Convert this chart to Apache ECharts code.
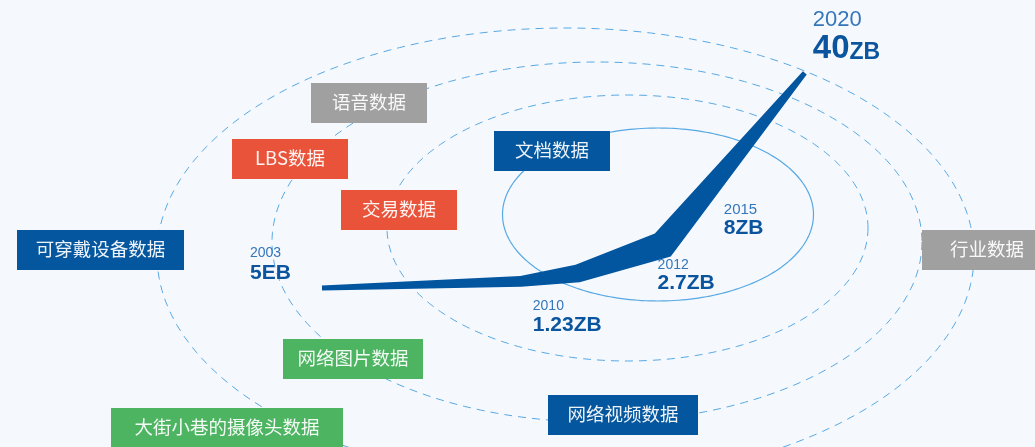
<!DOCTYPE html>
<html>
<head>
<meta charset="utf-8">
<script src="https://cdn.jsdelivr.net/npm/echarts@6/dist/echarts.min.js"></script>
<style>
html,body{margin:0;padding:0;background:#f5f9fe;}
#main{width:1035px;height:447px;}
</style>
</head>
<body>
<div id="main"></div>
<script>
// ---------------- data ----------------
const years = [2003, 2010, 2012, 2015, 2020];
const volumesZB = [0.005, 1.23, 2.7, 8, 40];          // 5EB = 0.005ZB
const volumeNumbers = ['5', '1.23', '2.7', '8', '40'];
const volumeUnits = ['EB', 'ZB', 'ZB', 'ZB', 'ZB'];
const dataTypes = ['语音数据', 'LBS数据', '交易数据', '可穿戴设备数据', '文档数据',
                   '网络图片数据', '大街小巷的摄像头数据', '网络视频数据', '行业数据'];
const dataTypeGroups = ['gray', 'red', 'red', 'blue', 'blue', 'green', 'green', 'blue', 'gray'];

// ---------------- styles / layout ----------------
const bgColor = '#f5f9fe';
const wedgeColor = '#02559f';
const ringColor = '#58a8e3';
const yearColor = '#3576bb';
const valueColor = '#0b559f';
const groupColors = { gray: '#a0a0a0', red: '#e8533a', blue: '#04569e', green: '#4db462' };
const boxLayout = [[311, 83, 116], [232, 139, 116], [341, 190, 116], [17, 230, 167], [494, 131, 116],
                   [283, 339, 140], [111, 408, 232], [548, 395, 150], [922, 230, 130]];
const boxHeight = 40;
const ringLayout = [
  { cx: 658, cy: 214.5, rx: 155.5, ry: 86.5, dashed: false },
  { cx: 627.5, cy: 228, rx: 240.5, ry: 133, dashed: true },
  { cx: 597, cy: 242, rx: 325, ry: 180, dashed: true },
  { cx: 565.5, cy: 255, rx: 408.5, ry: 227, dashed: true }
];
const wedgeHalfWidth = [2.5, 5.5, 9, 13.5, 2.5];
// [dx of label, dy of year text middle, dy of value text middle] relative to the data point
const labelOffset = [[-72, -34.5, -14.5], [12, 24.6, 44.1], [80, -8, 10], [61, -35.5, -17], [8, -53.3, -23.8]];
const yearFontSize = [14, 14, 14, 15, 22];
const valueFontSize = [21, 21, 21, 21, 33];
const unitFontSize = [21, 21, 21, 21, 23];
const numFont = '"Liberation Sans", Arial, Helvetica, sans-serif';
const cjkFont = '"Noto Sans CJK SC", "Liberation Sans", sans-serif';

// ---------------- helpers ----------------
const measureCtx = document.createElement('canvas').getContext('2d');
function textWidth(text, font) { measureCtx.font = font; return measureCtx.measureText(text).width; }

function ellipsePoints(r) {
  const pts = [];
  const n = 240;
  for (let k = 0; k < n; k++) {
    const t = (k / n) * Math.PI * 2;
    pts.push([r.cx + r.rx * Math.cos(t), r.cy + r.ry * Math.sin(t)]);
  }
  return pts;
}

function unitNormal(a, b) {
  const dx = b[0] - a[0], dy = b[1] - a[1];
  const L = Math.hypot(dx, dy);
  return [-dy / L, dx / L];
}

function renderItem(params, api) {
  const i = params.dataIndex;
  const children = [];
  if (i === 0) {
    const pts = years.map((y, k) => api.coord([y, volumesZB[k]]));
    const top = [], bottom = [];
    for (let k = 0; k < pts.length; k++) {
      let n;
      if (k === 0) n = unitNormal(pts[0], pts[1]);
      else if (k === pts.length - 1) n = unitNormal(pts[k - 1], pts[k]);
      else {
        const n1 = unitNormal(pts[k - 1], pts[k]);
        const n2 = unitNormal(pts[k], pts[k + 1]);
        let m = [n1[0] + n2[0], n1[1] + n2[1]];
        const L = Math.hypot(m[0], m[1]);
        m = [m[0] / L, m[1] / L];
        const c = m[0] * n1[0] + m[1] * n1[1];
        n = [m[0] / c, m[1] / c];
      }
      const w = wedgeHalfWidth[k];
      bottom.push([pts[k][0] + n[0] * w, pts[k][1] + n[1] * w]);
      top.push([pts[k][0] - n[0] * w, pts[k][1] - n[1] * w]);
    }
    children.push({
      type: 'polygon',
      shape: { points: top.concat(bottom.reverse()) },
      style: { fill: wedgeColor }
    });
  }
  const p = api.coord([api.value(0), api.value(1)]);
  const off = labelOffset[i];
  const x0 = p[0] + off[0];
  const yFont = yearFontSize[i] + 'px ' + numFont;
  const vFont = 'bold ' + valueFontSize[i] + 'px ' + numFont;
  const uFont = 'bold ' + unitFontSize[i] + 'px ' + numFont;
  children.push({
    type: 'text',
    style: { text: String(years[i]), x: x0, y: p[1] + off[1], font: yFont, fill: yearColor, align: 'left', verticalAlign: 'middle' }
  });
  children.push({
    type: 'text',
    style: { text: volumeNumbers[i], x: x0, y: p[1] + off[2], font: vFont, fill: valueColor, align: 'left', verticalAlign: 'middle' }
  });
  const wNum = textWidth(volumeNumbers[i], vFont);
  children.push({
    type: 'text',
    style: {
      text: volumeUnits[i], x: x0 + wNum, y: p[1] + off[2] + 0.358 * (valueFontSize[i] - unitFontSize[i]),
      font: uFont, fill: valueColor, align: 'left', verticalAlign: 'middle'
    }
  });
  return { type: 'group', children: children };
}

// ---------------- graphic decorations ----------------
const graphics = [];
ringLayout.forEach(r => {
  graphics.push({
    type: 'polygon',
    silent: true,
    z: 0,
    shape: { points: ellipsePoints(r) },
    style: { fill: null, stroke: ringColor, lineWidth: r.dashed ? 1 : 1.2, lineDash: r.dashed ? [8, 6] : null }
  });
});
dataTypes.forEach((name, i) => {
  const b = boxLayout[i];
  graphics.push({
    type: 'rect',
    silent: true,
    z: 1,
    shape: { x: b[0], y: b[1], width: b[2], height: boxHeight },
    style: { fill: groupColors[dataTypeGroups[i]] }
  });
  graphics.push({
    type: 'text',
    silent: true,
    z: 2,
    style: {
      text: name, x: b[0] + b[2] / 2, y: b[1] + boxHeight / 2 - 1,
      font: '18.5px ' + cjkFont, fill: 'rgba(255,255,255,0.93)', align: 'center', verticalAlign: 'middle'
    }
  });
});

const chart = echarts.init(document.getElementById('main'), null, { renderer: 'canvas' });
chart.setOption({
  backgroundColor: bgColor,
  animation: false,
  grid: { left: 236.8, top: 19, width: 710, height: 269 },
  xAxis: { type: 'value', min: 2000, max: 2025, show: false },
  yAxis: { type: 'value', min: 0, max: 50, show: false },
  graphic: graphics,
  series: [{
    type: 'custom',
    coordinateSystem: 'cartesian2d',
    silent: true,
    z: 5,
    data: years.map((y, i) => [y, volumesZB[i]]),
    renderItem: renderItem
  }]
});
</script>
</body>
</html>
